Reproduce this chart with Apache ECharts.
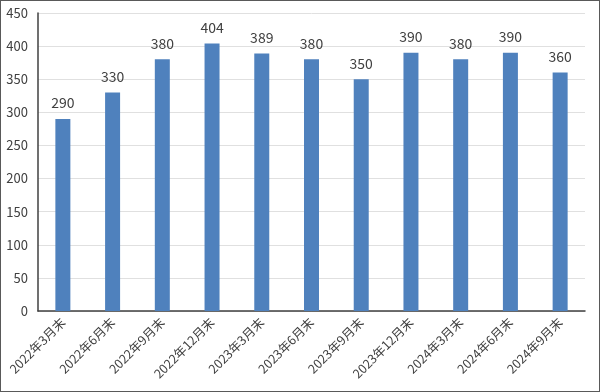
<!DOCTYPE html>
<html><head><meta charset="utf-8">
<script src="https://cdn.jsdelivr.net/npm/echarts@6/dist/echarts.min.js"></script>
<style>html,body{margin:0;padding:0;background:#fff}#c{width:600px;height:392px;box-sizing:border-box;border:1px solid #595959}</style>
</head><body><div id="c"></div>
<script>
const categories = ['2022年3月末','2022年6月末','2022年9月末','2022年12月末','2023年3月末','2023年6月末','2023年9月末','2023年12月末','2024年3月末','2024年6月末','2024年9月末'];
const values = [290,330,380,404,389,380,350,390,380,390,360];
const chart = echarts.init(document.getElementById('c'));
const font = '"Noto Sans CJK JP", "Noto Sans", sans-serif';
chart.setOption({
  animation:false,
  grid:{left:37,right:14,top:12,bottom:80},
  xAxis:{type:'category',data:categories,
    axisLine:{lineStyle:{color:'#404040',width:1.5}},
    axisTick:{show:false},
    axisLabel:{rotate:45,interval:0,color:'#404040',fontSize:12.5,fontFamily:font,margin:9}},
  yAxis:{type:'value',min:0,max:450,interval:50,
    axisLine:{show:true,lineStyle:{color:'#404040',width:1.5}},
    axisTick:{show:false},
    splitLine:{lineStyle:{color:'#e0e0e0'}},
    axisLabel:{color:'#404040',fontSize:13,fontFamily:font,margin:10}},
  series:[{type:'bar',data:values,barWidth:15,
    itemStyle:{color:'#4f81bd'},
    label:{show:true,position:'top',distance:9,color:'#404040',fontSize:14,fontFamily:font}}]
});
</script></body></html>
